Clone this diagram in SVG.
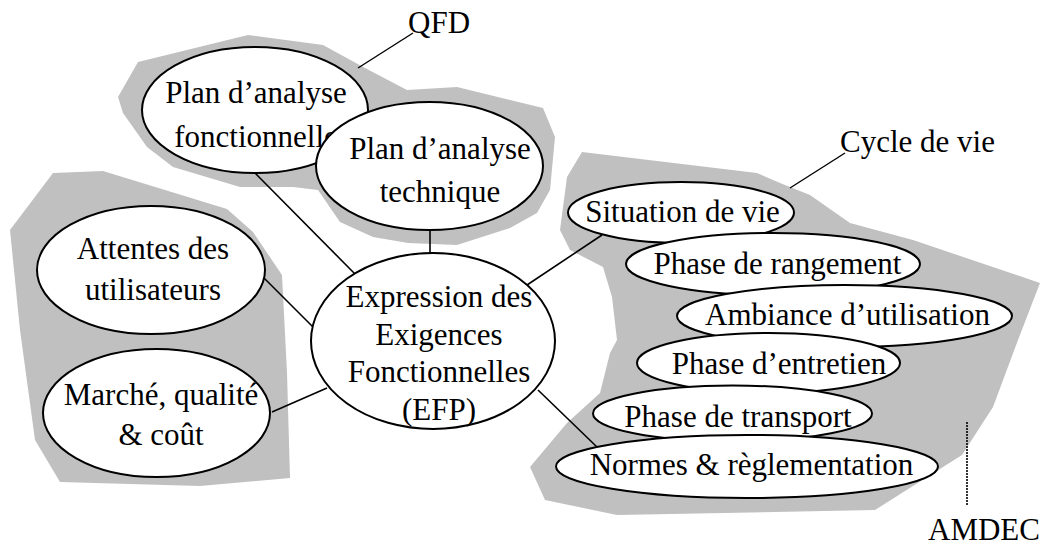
<svg xmlns="http://www.w3.org/2000/svg" width="1041" height="545" viewBox="0 0 1041 545">
  <style>
    .zone { fill: #c0c0c0; stroke: none; }
    .node ellipse { fill: #ffffff; stroke: #000000; stroke-width: 2; }
    text { font-family: "Liberation Serif", "Times New Roman", serif; font-size: 31px; fill: #000000; }
    .c { text-anchor: middle; }
    .link { stroke: #000000; stroke-width: 1.6; fill: none; }
    .leader { stroke: #000000; stroke-width: 1.4; fill: none; }
    .dotted { stroke: #000000; stroke-width: 1.6; stroke-dasharray: 2 1; fill: none; }
  </style>

  <!-- grey grouping zones -->
  <g id="zones">
    <polygon id="zone-qfd" class="zone" points="138,62 248,35 323,45 365,68 407,90 457,87 543,108 555,137 550,190 537,213 510,228 457,245 408,243 373,237 340,222 318,190 293,187 240,187 173,167 147,147 123,113 118,97"/>
    <polygon id="zone-left" class="zone" points="53,173 103,171 227,209 253,232 282,275 287,373 290,478 200,486 60,482 35,440 20,330 10,230"/>
    <polygon id="zone-cycle" class="zone" points="582,152 757,173 780,183 810,195 850,223 913,240 1040,283 1018,340 993,407 962,455 875,510 617,515 545,500 530,467 567,423 600,393 610,353 617,340 612,297 603,267 570,250 560,230 567,177"/>
  </g>

  <!-- connectors -->
  <g id="connectors">
    <line class="link" x1="255" y1="173" x2="355" y2="274"/>
    <line class="link" x1="430" y1="230" x2="430" y2="253"/>
    <line class="link" x1="263" y1="277" x2="313" y2="327"/>
    <line class="link" x1="272" y1="412" x2="327" y2="388"/>
    <line class="link" x1="602" y1="235" x2="527" y2="285"/>
    <line class="link" x1="538" y1="390" x2="597" y2="447"/>
    <line class="leader" x1="358" y1="68" x2="413" y2="33"/>
    <line class="leader" x1="790" y1="188" x2="845" y2="153"/>
    <line class="dotted" x1="967" y1="422" x2="967" y2="505"/>
  </g>

  <!-- zone labels -->
  <g id="labels">
    <text x="408" y="33">QFD</text>
    <text x="840" y="152">Cycle de vie</text>
    <text x="928" y="540">AMDEC</text>
  </g>

  <!-- nodes -->
  <g id="node-plan-fonctionnelle" class="node">
    <ellipse cx="255" cy="110" rx="113" ry="63"/>
    <text class="c" x="256" y="103">Plan d’analyse</text>
    <text class="c" x="256" y="147">fonctionnelle</text>
  </g>
  <g id="node-plan-technique" class="node">
    <ellipse cx="429.5" cy="166" rx="113.5" ry="64"/>
    <text class="c" x="440" y="159">Plan d’analyse</text>
    <text class="c" x="440" y="202">technique</text>
  </g>
  <g id="node-attentes" class="node">
    <ellipse cx="151" cy="270" rx="114" ry="64"/>
    <text class="c" x="153" y="259">Attentes des</text>
    <text class="c" x="153" y="300">utilisateurs</text>
  </g>
  <g id="node-marche" class="node">
    <ellipse cx="156.5" cy="413" rx="113.5" ry="64"/>
    <text class="c" x="161" y="405">Marché, qualité</text>
    <text class="c" x="161" y="445">&amp; coût</text>
  </g>
  <g id="node-efp" class="node">
    <ellipse cx="433" cy="341" rx="122" ry="88"/>
    <text class="c" x="439" y="307">Expression des</text>
    <text class="c" x="439" y="345">Exigences</text>
    <text class="c" x="439" y="382">Fonctionnelles</text>
    <text class="c" x="439" y="420">(EFP)</text>
  </g>
  <g id="node-situation" class="node">
    <ellipse cx="681" cy="212.5" rx="113" ry="30.5"/>
    <text class="c" x="682.5" y="222">Situation de vie</text>
  </g>
  <g id="node-rangement" class="node">
    <ellipse cx="773" cy="264" rx="147" ry="31"/>
    <text class="c" x="777.5" y="274">Phase de rangement</text>
  </g>
  <g id="node-ambiance" class="node">
    <ellipse cx="844.5" cy="316" rx="167.5" ry="31"/>
    <text class="c" x="847.5" y="325">Ambiance d’utilisation</text>
  </g>
  <g id="node-entretien" class="node">
    <ellipse cx="768.5" cy="363" rx="131.5" ry="30"/>
    <text class="c" x="779" y="374">Phase d’entretien</text>
  </g>
  <g id="node-transport" class="node">
    <ellipse cx="732.5" cy="413.5" rx="139.5" ry="28"/>
    <text class="c" x="738" y="427">Phase de transport</text>
  </g>
  <g id="node-normes" class="node">
    <ellipse cx="747" cy="466.5" rx="191" ry="31.5"/>
    <text class="c" x="751.5" y="475">Normes &amp; règlementation</text>
  </g>
</svg>
